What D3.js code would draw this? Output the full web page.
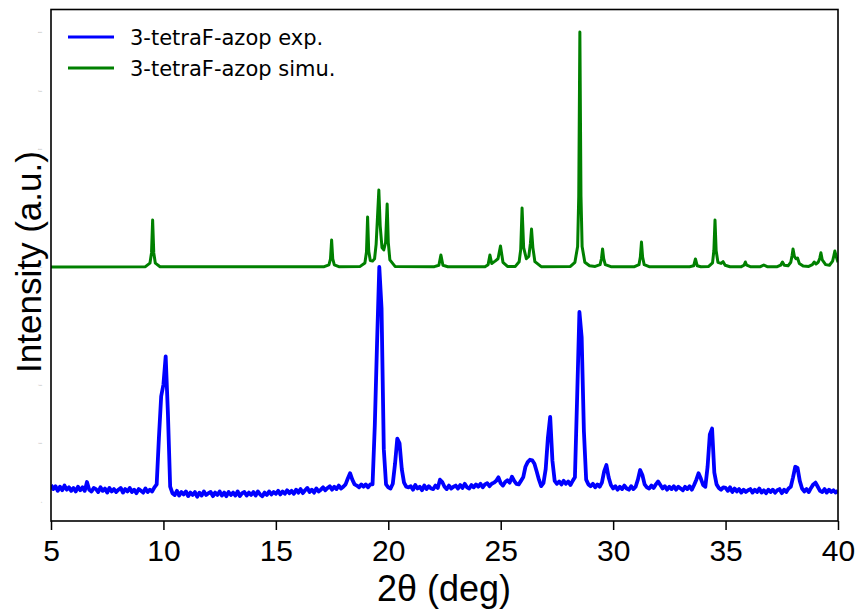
<!DOCTYPE html>
<html>
<head>
<meta charset="utf-8">
<script src="https://cdn.jsdelivr.net/npm/d3@7"></script>
<style>
  html, body { margin: 0; padding: 0; background: #fff; }
  svg { display: block; }
</style>
</head>
<body>
<svg id="chart" width="858" height="609"></svg>
<script>
// ---------------- DATA ----------------
const xTicks = [5, 10, 15, 20, 25, 30, 35, 40];
const yTicks = [0, 1000, 2000, 3000, 4000, 5000, 6000, 7000, 8000];
const seriesNames = ["3-tetraF-azop exp.", "3-tetraF-azop simu."];
const seriesColors = ["#0000ff", "#008000"];

// Experimental pattern: 2θ from 5.0 to 40.0 in steps of 0.1 deg
const expStart = 5.0;
const expStep = 0.1;
const expIntensity = [
  290, 220, 270, 190, 260, 200, 280, 210, 250, 190,   // 5
  240, 180, 260, 200, 250, 190, 340, 210, 180, 240,   // 6
  220, 170, 250, 190, 230, 160, 240, 180, 220, 170,   // 7
  210, 240, 160, 220, 180, 240, 170, 210, 150, 220,   // 8
  190, 160, 230, 170, 210, 180, 250, 300, 1100, 1800, // 9
  2000, 2480, 1500, 260, 150, 120, 190, 110, 170, 130,// 10
  180, 100, 160, 120, 170, 90, 160, 110, 180, 120,    // 11
  150, 170, 100, 160, 120, 180, 110, 160, 100, 170,   // 12
  120, 160, 110, 180, 100, 150, 170, 110, 160, 120,   // 13
  170, 110, 180, 130, 100, 160, 120, 180, 130, 170,   // 14
  140, 190, 130, 180, 140, 200, 150, 190, 140, 210,   // 15
  160, 220, 150, 200, 240, 170, 210, 160, 230, 180,   // 16
  210, 250, 200, 240, 270, 210, 260, 220, 280, 230,   // 17
  260, 300, 400, 490, 380, 300, 280, 250, 300, 260,   // 18
  300, 250, 300, 300, 1300, 2700, 4000, 3300, 900, 300,// 19
  250, 230, 310, 650, 1080, 1000, 560, 330, 260, 250, // 20
  270, 210, 290, 230, 260, 200, 280, 220, 270, 230,   // 21
  220, 280, 240, 380, 340, 260, 220, 280, 230, 260,   // 22
  280, 230, 290, 240, 310, 250, 230, 290, 250, 300,   // 23
  260, 310, 250, 300, 320, 270, 310, 330, 360, 420,   // 24
  320, 280, 340, 370, 330, 430, 360, 310, 300, 360,   // 25
  420, 600, 680, 720, 710, 650, 520, 380, 270, 320,   // 26
  560, 1100, 1450, 700, 360, 310, 350, 300, 360, 310, // 27
  350, 290, 360, 420, 1800, 3235, 2800, 1200, 380, 300,// 28
  270, 310, 250, 300, 260, 330, 520, 630, 420, 290,   // 29
  230, 270, 210, 260, 220, 280, 230, 210, 270, 220,   // 30
  260, 380, 545, 460, 300, 250, 230, 280, 240, 300,   // 31
  350, 290, 230, 270, 210, 260, 220, 270, 210, 260,   // 32
  230, 200, 260, 220, 270, 210, 290, 380, 490, 400,   // 33
  290, 260, 600, 1150, 1250, 500, 300, 240, 210, 250, // 34
  240, 190, 250, 170, 230, 180, 220, 160, 210, 170,   // 35
  200, 220, 160, 210, 170, 230, 160, 200, 150, 210,   // 36
  170, 210, 160, 200, 220, 150, 210, 170, 230, 260,   // 37
  420, 600, 580, 360, 230, 180, 220, 170, 240, 300,   // 38
  330, 260, 190, 170, 220, 160, 210, 170, 200, 160,   // 39
  190                                                 // 40
];

// Simulated pattern (offset by 4000): [2θ, intensity]
const simPoints = [
  [5.0,4000],[9.2,4005],
  [9.4,4065],[9.47,4240],[9.52,4800],[9.57,4240],[9.64,4065],[9.85,4005],
  [17.15,4005],[17.36,4037],[17.43,4138],[17.48,4459],[17.53,4138],[17.6,4037],[17.8,4005],
  [18.75,4010],[18.96,4068],[19.03,4255],[19.08,4851],[19.13,4270],[19.2,4110],[19.3,4100],
  [19.39,4140],[19.46,4390],[19.52,4850],[19.58,5310],[19.64,4700],[19.72,4330],[19.8,4290],
  [19.88,4420],[19.95,5072],[20.0,4420],[20.07,4120],[20.3,4010],
  [22.05,4005],[22.25,4030],[22.34,4204],[22.43,4030],[22.65,4005],
  [24.3,4005],[24.44,4040],[24.52,4204],[24.6,4060],[24.75,4100],[24.88,4140],[24.99,4357],
  [25.1,4080],[25.3,4010],
  [25.65,4010],[25.82,4090],[25.89,4300],[25.95,5004],[26.02,4330],[26.14,4140],[26.25,4180],
  [26.32,4400],[26.37,4646],[26.43,4330],[26.52,4090],[26.8,4005],
  [28.1,4010],[28.3,4080],[28.42,4350],[28.47,5200],[28.52,8000],[28.57,5200],[28.62,4350],
  [28.74,4080],[28.95,4020],
  [29.2,4010],[29.42,4040],[29.48,4140],[29.53,4306],[29.58,4140],[29.65,4040],[29.9,4005],
  [30.95,4005],[31.15,4040],[31.21,4170],[31.26,4425],[31.31,4170],[31.38,4040],[31.6,4005],
  [33.4,4005],[33.58,4020],[33.66,4136],[33.74,4020],[33.9,4005],
  [34.25,4010],[34.42,4070],[34.48,4280],[34.53,4800],[34.58,4280],[34.66,4080],[34.8,4060],
  [34.89,4090],[34.98,4030],[35.2,4005],
  [35.7,4005],[35.82,4030],[35.88,4085],[35.94,4030],[36.1,4005],
  [36.55,4005],[36.7,4034],[36.85,4005],
  [37.3,4005],[37.45,4030],[37.53,4085],[37.61,4030],[37.78,4020],[37.9,4080],[37.96,4200],
  [38.0,4306],[38.06,4180],[38.13,4140],[38.2,4153],[38.28,4060],[38.45,4015],
  [38.7,4010],[38.86,4040],[38.94,4085],[39.02,4050],[39.12,4080],[39.19,4150],[39.24,4243],
  [39.3,4120],[39.45,4040],[39.62,4030],[39.76,4100],[39.82,4200],[39.86,4272],[39.92,4180],
  [40.0,4080]
];

// ---------------- CHART ----------------
const svg = d3.select("#chart");
const plot = { left: 51, right: 838, top: 9.5, bottom: 521 };

const x = d3.scaleLinear().domain([5, 40]).range([plot.left, plot.right]);
const y = d3.scaleLinear().domain([-323, 8382]).range([plot.bottom, plot.top]);

svg.append("defs").append("clipPath").attr("id", "clip")
  .append("rect")
  .attr("x", plot.left).attr("y", plot.top)
  .attr("width", plot.right - plot.left).attr("height", plot.bottom - plot.top);

const expData = expIntensity.map((v, i) => [expStart + i * expStep, v]);

const line = d3.line().x(d => x(d[0])).y(d => y(d[1]));

const g = svg.append("g").attr("clip-path", "url(#clip)");
g.append("path").datum(simPoints)
  .attr("d", line)
  .attr("fill", "none")
  .attr("stroke", seriesColors[1])
  .attr("stroke-width", 3)
  .attr("stroke-linejoin", "round");
g.append("path").datum(expData)
  .attr("d", line)
  .attr("fill", "none")
  .attr("stroke", seriesColors[0])
  .attr("stroke-width", 3.8)
  .attr("stroke-linejoin", "round");

// X axis
const xAxis = svg.append("g")
  .attr("transform", `translate(0,${plot.bottom})`)
  .call(d3.axisBottom(x).tickValues(xTicks).tickSize(9).tickPadding(10).tickFormat(d3.format("d")));
xAxis.select(".domain").remove();
xAxis.selectAll(".tick line").attr("stroke", "#000").attr("stroke-width", 1.5);
xAxis.selectAll(".tick text")
  .attr("font-family", "'Liberation Sans', Arial, sans-serif")
  .attr("font-size", 30)
  .attr("fill", "#000");

// Y axis (tiny labels, as in the reference)
const yAxis = svg.append("g")
  .attr("transform", `translate(${plot.left},0)`)
  .call(d3.axisLeft(y).tickValues(yTicks).tickSize(0).tickPadding(9).tickFormat(d3.format("d")));
yAxis.select(".domain").remove();
yAxis.selectAll(".tick text")
  .attr("font-family", "'DejaVu Sans', sans-serif")
  .attr("font-size", 1.6)
  .attr("fill", "#888");

// Frame
svg.append("rect")
  .attr("x", plot.left).attr("y", plot.top)
  .attr("width", plot.right - plot.left).attr("height", plot.bottom - plot.top)
  .attr("fill", "none").attr("stroke", "#000").attr("stroke-width", 1.6);

// Axis titles
svg.append("text")
  .attr("x", 444).attr("y", 601)
  .attr("text-anchor", "middle")
  .attr("font-family", "'Liberation Sans', Arial, sans-serif")
  .attr("font-size", 36)
  .attr("fill", "#000")
  .text("2θ (deg)");

svg.append("text")
  .attr("transform", "translate(41,262) rotate(-90)")
  .attr("text-anchor", "middle")
  .attr("font-family", "'Liberation Sans', Arial, sans-serif")
  .attr("font-size", 35)
  .attr("fill", "#000")
  .text("Intensity (a.u.)");

// Legend
const legend = svg.append("g");
const legendY = [37, 68];
seriesNames.forEach((name, i) => {
  legend.append("line")
    .attr("x1", 68).attr("x2", 114)
    .attr("y1", legendY[i]).attr("y2", legendY[i])
    .attr("stroke", seriesColors[i]).attr("stroke-width", 3);
  legend.append("text")
    .attr("x", 130).attr("y", legendY[i] + 8)
    .attr("font-family", "'DejaVu Sans', sans-serif")
    .attr("font-size", 21)
    .attr("fill", "#000")
    .text(name);
});
</script>
</body>
</html>
